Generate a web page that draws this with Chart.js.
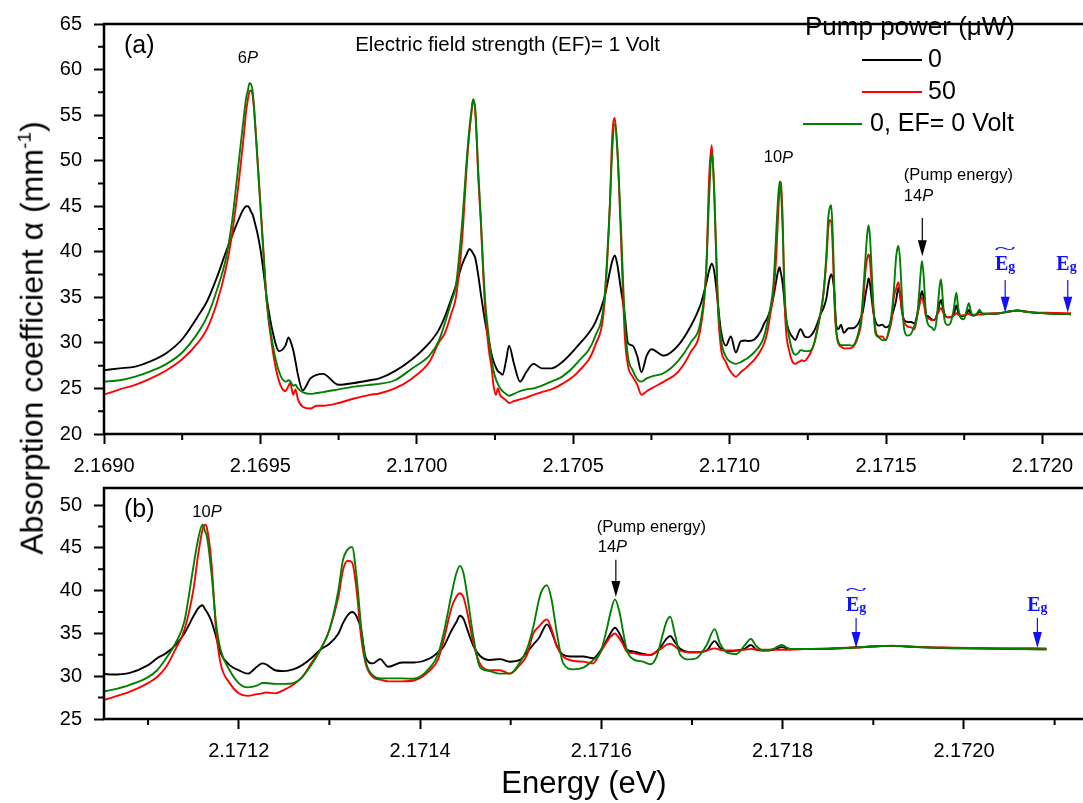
<!DOCTYPE html>
<html>
<head>
<meta charset="utf-8">
<title>Absorption spectra</title>
<script src="https://cdn.jsdelivr.net/npm/chart.js@4.4.1/dist/chart.umd.min.js"></script>
<style>
  html, body { margin: 0; padding: 0; background: #fff; overflow: hidden; }
  #wrap { position: relative; width: 1083px; height: 803px; }
  canvas { position: absolute; left: 0; }
  #panelA { top: 0; }
  #panelB { top: 440px; }
  #ytitle {
    position: absolute; left: 31px; top: 338px;
    transform: translate(-50%, -50%) rotate(-90deg);
    white-space: nowrap; font: 32px Arial, "Liberation Sans", sans-serif; line-height: 1;
  }
  #ytitle sup { font-size: 0.6em; }
  #xtitle {
    position: absolute; left: 584px; top: 782px;
    transform: translate(-50%, -50%);
    white-space: nowrap; font: 31px Arial, "Liberation Sans", sans-serif; line-height: 1;
  }
</style>
</head>
<body>
<div id="wrap">
  <canvas id="panelA" width="1083" height="480"></canvas>
  <canvas id="panelB" width="1083" height="363"></canvas>
  <div id="ytitle">Absorption coefficient &alpha; (mm<sup>-1</sup>)</div>
  <div id="xtitle">Energy (eV)</div>
</div>
<script>
// ============================================================
// Absorption spectra, Rydberg P series (6P ... band edge)
// Panel (a) full range, panel (b) zoom on 10P -> Eg.
// Both panels draw the same three traces.
// ============================================================

// ---------- Data ----------
// photon energy of each sample, eV
const energy = [
  2.169000, 2.169050, 2.169100, 2.169150, 2.169200, 2.169250, 2.169300, 2.169330, 2.169360, 2.169390,
  2.169410, 2.169430, 2.169445, 2.169455, 2.169460, 2.169465, 2.169470, 2.169475, 2.169480, 2.169490,
  2.169500, 2.169510, 2.169520, 2.169540, 2.169560, 2.169580, 2.169590, 2.169595, 2.169605, 2.169612,
  2.169620, 2.169635, 2.169660, 2.169680, 2.169700, 2.169750, 2.169800, 2.169850, 2.169880, 2.169930,
  // 7P .. 9P
  2.169985, 2.170040, 2.170070, 2.170090, 2.170110, 2.170125, 2.170145, 2.170160, 2.170168, 2.170175,
  2.170180, 2.170187, 2.170197, 2.170205, 2.170213, 2.170220, 2.170230, 2.170240, 2.170245, 2.170253,
  2.170259, 2.170267, 2.170274, 2.170285, 2.170295, 2.170310, 2.170330, 2.170350, 2.170373, 2.170400,
  2.170430, 2.170465, 2.170515, 2.170570, 2.170600, 2.170617, 2.170625, 2.170633, 2.170641, 2.170652,
  2.170665, 2.170675, 2.170690, 2.170705, 2.170718, 2.170735, 2.170750, 2.170790, 2.170835, 2.170875,
  2.170908, 2.170925, 2.170935, 2.170943, 2.170951, 2.170962, 2.170972, 2.170988, 2.171004, 2.171020,
  2.171036,
  // 10P, 11P
  2.171051, 2.171060, 2.171080, 2.171100, 2.171110, 2.171120, 2.171130, 2.171140, 2.171150, 2.171155,
  2.171160, 2.171163, 2.171165, 2.171170, 2.171175, 2.171180, 2.171190, 2.171200, 2.171210, 2.171220,
  2.171226, 2.171230, 2.171240, 2.171250, 2.171260, 2.171270, 2.171280, 2.171290, 2.171300, 2.171310,
  2.171315, 2.171320, 2.171325, 2.171330, 2.171335,
  // 12P .. band edge
  2.171340, 2.171348, 2.171356, 2.171365, 2.171380, 2.171393, 2.171411, 2.171420, 2.171426, 2.171435,
  2.171440, 2.171444, 2.171448, 2.171452, 2.171459, 2.171466, 2.171477, 2.171488, 2.171499, 2.171510,
  2.171518, 2.171525, 2.171532, 2.171536, 2.171540, 2.171545, 2.171551, 2.171558, 2.171569, 2.171580,
  2.171591, 2.171599, 2.171606, 2.171610, 2.171615, 2.171620, 2.171623, 2.171628, 2.171635, 2.171646,
  2.171654, 2.171661, 2.171668, 2.171672, 2.171676, 2.171681, 2.171687, 2.171697, 2.171705, 2.171716,
  2.171725, 2.171731, 2.171740, 2.171749, 2.171758, 2.171765, 2.171771, 2.171779, 2.171790, 2.171799,
  2.171808, 2.171827, 2.171849, 2.171879, 2.171904, 2.171922, 2.171941, 2.171977, 2.172014, 2.172051,
  2.172091
];

// alpha (mm^-1), pump 0 uW, EF = 1 V  (black)
const alpha0 = [
  27.0, 27.2, 27.4, 28.0, 28.9, 30.4, 32.9, 34.6, 37.1, 40.0,
  41.8, 43.5, 44.6, 45.0, 45.0, 44.8, 44.4, 44.1, 43.5, 42.1,
  40.3, 37.8, 35.0, 31.1, 29.1, 29.7, 30.6, 30.3, 29.2, 28.0,
  26.5, 24.8, 26.1, 26.5, 26.6, 25.4, 25.6, 25.9, 26.1, 26.9,
  28.2, 30.0, 31.4, 32.9, 34.8, 36.3, 38.6, 39.8, 40.3, 40.1,
  39.8, 39.3, 37.3, 35.3, 33.5, 32.0, 30.3, 28.6, 28.0, 27.3,
  26.9, 26.7, 26.5, 28.0, 29.7, 27.8, 25.75, 26.8, 27.7, 27.2,
  27.2, 27.9, 29.7, 32.2, 35.0, 37.8, 39.0, 39.6, 38.6, 36.0,
  33.0, 30.0, 29.7, 28.5, 26.8, 28.6, 29.3, 28.6, 29.7, 31.8,
  34.3, 36.5, 38.0, 38.7, 37.8, 34.5, 31.4, 29.7, 30.7, 28.95,
  30.2,
  30.26, 30.2, 30.4, 31.3, 32.1, 32.7, 33.6, 35.0, 37.0, 37.9,
  38.3, 37.8, 37.5, 36.4, 34.6, 32.7, 31.3, 30.7, 30.3, 31.1,
  31.5, 31.4, 30.7, 30.6, 30.8, 31.3, 32.1, 33.1, 33.8, 35.0,
  36.2, 37.1, 37.5, 37.0, 35.4,
  32.2, 31.5, 32.0, 31.1, 31.6, 31.6, 32.1, 32.8, 33.45, 35.4,
  36.3, 37.07, 36.7, 35.5, 33.5, 32.4, 31.9, 32.0, 31.7, 31.9,
  32.8, 33.7, 34.6, 35.5, 36.06, 35.2, 33.5, 32.5, 32.3, 32.3,
  32.1, 33.0, 34.2, 35.0, 35.67, 35.0, 34.3, 33.1, 32.9, 32.6,
  32.5, 32.9, 33.8, 34.4, 34.7, 34.0, 33.2, 32.8, 32.8, 33.0,
  34.1, 33.3, 32.9, 33.0, 33.2, 33.65, 33.1, 33.0, 33.1, 33.4,
  33.2, 33.2, 33.2, 33.35, 33.5, 33.55, 33.45, 33.3, 33.25, 33.2,
  33.15
];

// alpha (mm^-1), pump 50 uW, EF = 1 V  (red)
const alpha50 = [
  24.3, 24.9, 25.4, 26.1, 27.0, 28.2, 30.0, 31.6, 34.3, 38.2,
  42.1, 47.4, 52.1, 55.6, 56.7, 57.6, 57.7, 57.2, 55.6, 50.6,
  45.3, 40.0, 34.6, 29.0, 25.75, 24.7, 25.3, 25.6, 24.3, 24.9,
  23.8, 23.0, 22.8, 23.1, 23.1, 23.4, 23.9, 24.3, 24.45, 25.0,
  26.1, 27.9, 30.0, 31.1, 33.2, 35.0, 41.4, 49.6, 53.0, 55.3,
  56.7, 55.3, 47.8, 43.0, 37.1, 33.0, 29.3, 27.0, 25.4, 24.3,
  25.0, 24.2, 24.0, 23.7, 23.4, 23.6, 23.8, 24.0, 24.3, 24.6,
  24.9, 25.5, 26.8, 29.7, 34.3, 45.0, 52.8, 54.7, 51.3, 42.1,
  30.7, 27.5, 26.3, 25.4, 24.3, 24.7, 25.0, 25.75, 26.8, 28.95,
  31.8, 37.8, 48.5, 51.7, 46.4, 34.3, 29.5, 27.9, 26.8, 26.3,
  26.8,
  27.2, 27.5, 28.2, 29.2, 29.9, 31.1, 33.1, 35.4, 40.1, 44.0,
  47.1, 47.7, 47.3, 43.2, 35.4, 31.5, 29.2, 28.0, 27.7, 27.9,
  28.0, 28.1, 28.0, 28.4, 29.0, 29.9, 31.5, 33.1, 35.4, 39.3,
  42.4, 43.5, 43.3, 40.1, 34.6,
  31.5, 29.9, 29.6, 29.4, 29.4, 29.5, 30.7, 32.0, 34.2, 38.1,
  39.3, 39.7, 39.2, 37.5, 33.8, 31.5, 30.7, 30.7, 30.3, 31.3,
  32.5, 35.0, 35.9, 36.4, 36.65, 35.5, 33.5, 32.3, 31.8, 31.7,
  31.5, 32.8, 34.0, 34.6, 35.0, 34.4, 33.9, 32.9, 32.7, 32.5,
  32.5, 32.9, 33.4, 33.7, 33.8, 33.5, 33.0, 32.8, 32.8, 33.0,
  33.25, 33.1, 33.0, 33.0, 33.1, 33.2, 33.1, 33.1, 33.1, 33.1,
  33.1, 33.2, 33.25, 33.35, 33.5, 33.55, 33.48, 33.35, 33.3, 33.28,
  33.25
];

// alpha (mm^-1), pump 0 uW, EF = 0 V  (green)
const alphaEF0 = [
  25.75, 25.9, 26.3, 26.9, 27.7, 28.95, 31.1, 32.9, 35.7, 39.3,
  43.5, 49.6, 54.2, 57.0, 57.7, 58.5, 58.4, 57.7, 55.6, 50.3,
  45.0, 39.6, 34.6, 29.7, 26.8, 25.75, 25.9, 25.8, 25.3, 25.4,
  25.0, 24.6, 24.4, 24.5, 24.6, 24.9, 25.2, 25.4, 25.5, 25.9,
  27.2, 28.6, 30.2, 32.2, 34.5, 36.3, 43.2, 50.3, 53.5, 55.6,
  56.75, 55.6, 48.5, 43.5, 37.8, 34.0, 30.7, 28.0, 27.0, 26.0,
  25.5, 25.0, 24.7, 24.4, 24.2, 24.4, 24.7, 24.9, 25.0, 25.3,
  25.75, 26.3, 27.9, 30.7, 35.0, 45.0, 51.3, 54.0, 51.3, 43.2,
  32.5, 28.5, 27.0, 26.0, 25.75, 26.1, 26.3, 26.7, 28.0, 30.0,
  32.5, 37.8, 46.4, 51.0, 46.4, 35.0, 30.5, 28.5, 27.9, 27.7,
  27.9,
  28.2, 28.4, 29.0, 29.9, 30.7, 32.1, 33.8, 36.4, 42.8, 45.9,
  47.7, 46.9, 46.3, 42.0, 36.2, 33.1, 30.7, 29.2, 28.7, 28.9,
  29.2, 29.2, 29.1, 29.1, 29.2, 29.9, 31.3, 33.1, 35.4, 40.1,
  43.6, 44.8, 45.1, 41.6, 35.8,
  31.8, 30.1, 29.75, 29.75, 29.75, 29.7, 31.0, 32.6, 35.0, 39.7,
  42.0, 42.9, 42.0, 39.5, 34.5, 31.1, 30.6, 30.3, 30.3, 31.6,
  33.2, 35.8, 39.3, 40.3, 40.65, 39.0, 35.0, 31.5, 30.8, 31.0,
  31.9, 32.8, 35.5, 37.4, 38.98, 37.5, 35.8, 33.1, 32.0, 31.7,
  31.4, 32.3, 35.0, 36.4, 36.95, 35.0, 32.5, 31.97, 32.1, 33.6,
  35.5, 33.8, 32.7, 32.6, 33.6, 34.35, 33.5, 33.0, 33.2, 33.65,
  33.2, 33.2, 33.2, 33.35, 33.5, 33.57, 33.45, 33.32, 33.22, 33.18,
  33.15
];

// ---------- Axes ----------
const xTicksA = [2.1690, 2.1695, 2.1700, 2.1705, 2.1710, 2.1715, 2.1720];
const xMinorA = [2.16925, 2.16975, 2.17025, 2.17075, 2.17125, 2.17175];
const yTicksA = [20, 25, 30, 35, 40, 45, 50, 55, 60, 65];
const yMinorA = [22.5, 27.5, 32.5, 37.5, 42.5, 47.5, 52.5, 57.5, 62.5];

const xTicksB = [2.1712, 2.1714, 2.1716, 2.1718, 2.1720];
const xMinorB = [2.1711, 2.1713, 2.1715, 2.1717, 2.1719, 2.1721];
const yTicksB = [25, 30, 35, 40, 45, 50];
const yMinorB = [27.5, 32.5, 37.5, 42.5, 47.5];

// marked energies
const pumpEnergy = 2.171616;   // 14P
const egTilde = 2.171881;
const egEdge = 2.172081;

const BLUE = "#1010ff";
const FONT = 'Arial, "Liberation Sans", sans-serif';

Chart.defaults.font.family = FONT;
Chart.defaults.color = "#000";

// ---------- Helpers ----------
function trace(label, values, color) {
  const n = Math.min(energy.length, values.length);
  if (energy.length !== values.length) console.warn("length mismatch", label, energy.length, values.length);
  const pts = [];
  for (let i = 0; i < n; i++) pts.push({ x: energy[i], y: values[i] });
  return {
    label, data: pts, borderColor: color, backgroundColor: color,
    borderWidth: 1.9, pointRadius: 0, showLine: true,
    cubicInterpolationMode: "monotone"
  };
}

// rich text: parts = [[text, font], ...]
function drawParts(ctx, parts, x, y, align) {
  let total = 0;
  parts.forEach(([t, f]) => { ctx.font = f; total += ctx.measureText(t).width; });
  let cx = align === "center" ? x - total / 2 : x;
  ctx.textAlign = "left";
  ctx.textBaseline = "middle";
  parts.forEach(([t, f]) => { ctx.font = f; ctx.fillText(t, cx, y); cx += ctx.measureText(t).width; });
}

function drawArrow(ctx, x, yTop, yTip, color) {
  ctx.strokeStyle = color; ctx.fillStyle = color; ctx.lineWidth = 1.2;
  ctx.beginPath(); ctx.moveTo(x, yTop); ctx.lineTo(x, yTip - 12); ctx.stroke();
  ctx.beginPath();
  ctx.moveTo(x - 4.5, yTip - 16); ctx.lineTo(x + 4.5, yTip - 16); ctx.lineTo(x, yTip);
  ctx.closePath(); ctx.fill();
}

function drawEg(ctx, cx, cy, tilde) {
  const big = 'bold 20px "Liberation Serif", "DejaVu Serif", serif';
  const sub = 'bold 14px "Liberation Serif", "DejaVu Serif", serif';
  ctx.font = big; const wE = ctx.measureText("E").width;
  ctx.font = sub; const wg = ctx.measureText("g").width;
  const x0 = cx - (wE + wg) / 2;
  ctx.fillStyle = BLUE;
  ctx.textAlign = "left"; ctx.textBaseline = "alphabetic";
  ctx.font = big; ctx.fillText("E", x0, cy + 7);
  ctx.font = sub; ctx.fillText("g", x0 + wE, cy + 8);
  if (tilde) {
    ctx.save();
    ctx.translate(cx, cy - 9);
    ctx.scale(2.5, 1);
    ctx.font = '16px "Liberation Serif", serif';
    ctx.textAlign = "center";
    ctx.fillText("~", 0, 0);
    ctx.restore();
  }
}

// frame, minor ticks, labels and arrows for one panel
function decorations(cfg) {
  return {
    id: "decor",
    afterDraw(chart) {
      const { ctx, chartArea: a, scales } = chart;
      const X = v => scales.x.getPixelForValue(v);
      const Y = v => scales.y.getPixelForValue(v);
      ctx.save();
      // frame (right side is off the picture)
      ctx.strokeStyle = "#000"; ctx.lineWidth = 2.5; ctx.lineCap = "square";
      ctx.beginPath();
      ctx.moveTo(a.right + 4, a.top); ctx.lineTo(a.left, a.top);
      ctx.lineTo(a.left, a.bottom); ctx.lineTo(a.right + 4, a.bottom);
      ctx.stroke();
      // minor ticks
      ctx.lineWidth = 2; ctx.lineCap = "butt";
      ctx.beginPath();
      cfg.xMinor.forEach(v => { const px = X(v); if (px <= a.right) { ctx.moveTo(px, a.bottom); ctx.lineTo(px, a.bottom + 6); } });
      cfg.yMinor.forEach(v => { const py = Y(v); ctx.moveTo(a.left, py); ctx.lineTo(a.left - 6, py); });
      ctx.stroke();
      // text notes
      ctx.fillStyle = "#000";
      cfg.notes.forEach(n => drawParts(ctx, n.parts, X(n.x), Y(n.y), n.align));
      // arrows
      cfg.arrows.forEach(r => drawArrow(ctx, X(r.x), Y(r.from), Y(r.to), r.color));
      cfg.gaps.forEach(g => drawEg(ctx, X(g.x), Y(g.y), g.tilde));
      // legend
      if (cfg.legend) {
        const L = cfg.legend;
        ctx.fillStyle = "#000";
        ctx.font = "26px " + FONT; ctx.textAlign = "center"; ctx.textBaseline = "middle";
        ctx.fillText("Pump power (\u03BCW)", L.titleX, L.titleY);
        ctx.font = "25px " + FONT;
        chart.data.datasets.slice().reverse().forEach((ds, i) => {
          const row = L.rows[i];
          ctx.strokeStyle = ds.borderColor; ctx.lineWidth = 2;
          ctx.beginPath(); ctx.moveTo(row.x1, row.y); ctx.lineTo(row.x2, row.y); ctx.stroke();
          ctx.fillStyle = "#000"; ctx.textAlign = "left";
          ctx.fillText(ds.label, row.tx, row.y);
        });
      }
      ctx.restore();
    }
  };
}

function makePanel(id, p) {
  return new Chart(document.getElementById(id), {
    type: "scatter",
    data: {
      datasets: [
        trace("0, EF= 0 Volt", alphaEF0, "#008000"),
        trace("50", alpha50, "#ff0000"),
        trace("0", alpha0, "#000000")
      ]
    },
    options: {
      responsive: false, animation: false, events: [],
      layout: { padding: { top: p.padTop, left: 0, right: 0, bottom: 0 } },
      plugins: { legend: { display: false }, tooltip: { enabled: false } },
      scales: {
        x: {
          type: "linear", min: p.xMin, max: p.xMax,
          afterBuildTicks: s => { s.ticks = p.xTicks.map(v => ({ value: v })); },
          afterFit: s => { s.height = p.xHeight; },
          ticks: { callback: v => v.toFixed(4), font: { size: 20 }, padding: 10, maxRotation: 0, autoSkip: false },
          grid: { drawOnChartArea: false, tickLength: 10, tickWidth: 2, tickColor: "#000" },
          border: { display: false }
        },
        y: {
          type: "linear", min: p.yMin, max: p.yMax,
          afterBuildTicks: s => { s.ticks = p.yTicks.map(v => ({ value: v })); },
          afterFit: s => { s.width = 104; },
          ticks: { callback: v => String(v), font: { size: 20 }, padding: 12, autoSkip: false },
          grid: { drawOnChartArea: false, tickLength: 10, tickWidth: 2, tickColor: "#000" },
          border: { display: false }
        }
      }
    },
    plugins: [decorations(p.decor)]
  });
}

const f16 = "16.5px " + FONT, i16 = "italic 16.5px " + FONT;

// ---------- Panel (a) ----------
makePanel("panelA", {
  padTop: 12, xHeight: 46,
  xMin: 2.1690, xMax: 2.172118, yMin: 20, yMax: 65,
  xTicks: xTicksA, yTicks: yTicksA,
  decor: {
    xMinor: xMinorA, yMinor: yMinorA,
    notes: [
      { x: 2.169064, y: 62.55, align: "left", parts: [["(a)", "25px " + FONT]] },
      { x: 2.169460, y: 61.2, align: "center", parts: [["6", f16], ["P", i16]] },
      { x: 2.169803, y: 62.65, align: "left", parts: [["Electric field strength (EF)= 1 Volt", "20.5px " + FONT]] },
      { x: 2.171156, y: 50.3, align: "center", parts: [["10", f16], ["P", i16]] },
      { x: 2.171557, y: 48.4, align: "left", parts: [["(Pump energy)", f16]] },
      { x: 2.171557, y: 46.1, align: "left", parts: [["14", f16], ["P", i16]] }
    ],
    arrows: [
      { x: pumpEnergy, from: 43.7, to: 39.5, color: "#000" },
      { x: egTilde, from: 36.9, to: 33.3, color: BLUE },
      { x: egEdge, from: 36.9, to: 33.3, color: BLUE }
    ],
    gaps: [
      { x: egTilde, y: 38.8, tilde: true },
      { x: egEdge - 0.000004, y: 38.8, tilde: false }
    ],
    legend: {
      titleX: 910, titleY: 28,
      rows: [
        { x1: 862, x2: 922, y: 60, tx: 928 },
        { x1: 862, x2: 922, y: 92, tx: 928 },
        { x1: 803, x2: 862, y: 124, tx: 870 }
      ]
    }
  }
});

// ---------- Panel (b) ----------
makePanel("panelB", {
  padTop: 48, xHeight: 84,
  xMin: 2.1710514, xMax: 2.1721313, yMin: 25, yMax: 52,
  xTicks: xTicksB, yTicks: yTicksB,
  decor: {
    xMinor: xMinorB, yMinor: yMinorB,
    notes: [
      { x: 2.1710735, y: 49.42, align: "left", parts: [["(b)", "25px " + FONT]] },
      { x: 2.171165, y: 49.18, align: "center", parts: [["10", f16], ["P", i16]] },
      { x: 2.171595, y: 47.43, align: "left", parts: [["(Pump energy)", f16]] },
      { x: 2.171596, y: 45.1, align: "left", parts: [["14", f16], ["P", i16]] }
    ],
    arrows: [
      { x: pumpEnergy, from: 43.6, to: 39.25, color: "#000" },
      { x: egTilde, from: 36.8, to: 33.3, color: BLUE },
      { x: egEdge, from: 36.8, to: 33.3, color: BLUE }
    ],
    gaps: [
      { x: egTilde, y: 38.5, tilde: true },
      { x: egEdge, y: 38.5, tilde: false }
    ],
    legend: null
  }
});
</script>
</body>
</html>
